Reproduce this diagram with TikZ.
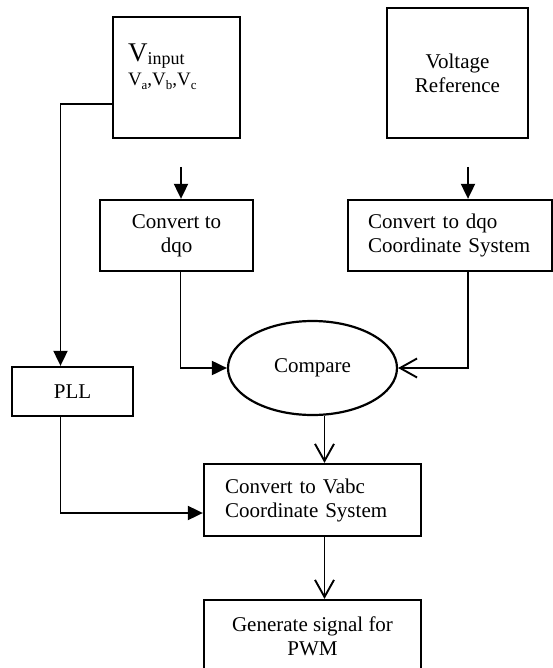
\documentclass[tikz,border=0pt]{standalone}
\usepackage{fontspec}
\setmainfont{Liberation Serif}
\usetikzlibrary{shapes.geometric, arrows.meta, positioning}

\begin{document}
\begin{tikzpicture}[
    x=1pt, y=-1pt,
    font=\fontsize{21}{24}\selectfont,
    % Styles for the flow chart
    block/.style={draw, line width=2.3pt, align=center, inner sep=0pt},
    leftblock/.style={block, align=left},
    decision/.style={draw, line width=2.2pt, ellipse, inner sep=0pt},
    solidarrow/.style={-{Triangle[length=15pt, width=14pt]}, line width=1.9pt},
    openarrow/.style={-{Straight Barb[length=17pt, width=19pt, line width=1.9pt]}, line width=1.9pt}
]
\useasboundingbox (0,0) rectangle (553,668);

% ----------------------------------------------------
% Inputs
% ----------------------------------------------------
\node[leftblock, minimum width=127pt, minimum height=121pt, text width=97pt, inner xsep=15pt, text depth=50pt] (vin) at (176.5,77.5)
    {{\fontsize{27}{28}\selectfont V}{\fontsize{18}{20}\selectfont\raisebox{-3pt}{input}}\\
     {\fontsize{19}{22}\selectfont V{\fontsize{13}{14}\selectfont\raisebox{-4pt}{a}},V{\fontsize{13}{14}\selectfont\raisebox{-4pt}{b}},V{\fontsize{13}{14}\selectfont\raisebox{-4pt}{c}}}};
\node[block, minimum width=141pt, minimum height=130pt] (vref) at (457.5,73) {Voltage\\Reference};

% free ends of the two feed arrows
\coordinate (feedL) at (181,167);
\coordinate (feedR) at (468,167);

% ----------------------------------------------------
% dqo conversion and comparison
% ----------------------------------------------------
\node[block, minimum width=153pt, minimum height=71pt] (dqoL) at (176.5,235.5) {Convert to\\dqo};
\node[leftblock, minimum width=204pt, minimum height=71pt, text width=164pt, inner xsep=20pt] (dqoR) at (450,235.5) {Convert to dqo\\Coordinate System};
\node[decision, minimum width=169pt, minimum height=94pt] (cmp) at (312.5,368) {Compare};
\node[block, minimum width=121pt, minimum height=49pt] (pll) at (72.5,391.5) {PLL};

% ----------------------------------------------------
% Output stages
% ----------------------------------------------------
\node[leftblock, minimum width=217pt, minimum height=72pt, text width=175pt, inner xsep=21pt] (vabc) at (312.5,500) {Convert to Vabc\\Coordinate System};
\node[block, minimum width=217pt, minimum height=73pt] (pwm) at (312.5,636.5) {Generate signal for\\PWM};

% ----------------------------------------------------
% Connections
% ----------------------------------------------------
\draw[solidarrow] (feedL) -- (feedL |- dqoL.north);
\draw[solidarrow] (feedR) -- (feedR |- dqoR.north);
\draw[solidarrow] ([yshift=-26.5pt]vin.west) -| ([xshift=-12pt]pll.north);
\draw[solidarrow] ([xshift=4pt]dqoL.south) |- (cmp.west);
\draw[openarrow] ([xshift=18pt]dqoR.south) |- (cmp.east);
\draw[solidarrow] ([xshift=-12pt]pll.south) |- ([yshift=-13pt]vabc.west);
\draw[openarrow] ([xshift=12pt]cmp.south) -- ([xshift=12pt]vabc.north);
\draw[openarrow] ([xshift=12pt]vabc.south) -- ([xshift=12pt]pwm.north);

\end{tikzpicture}
\end{document}
